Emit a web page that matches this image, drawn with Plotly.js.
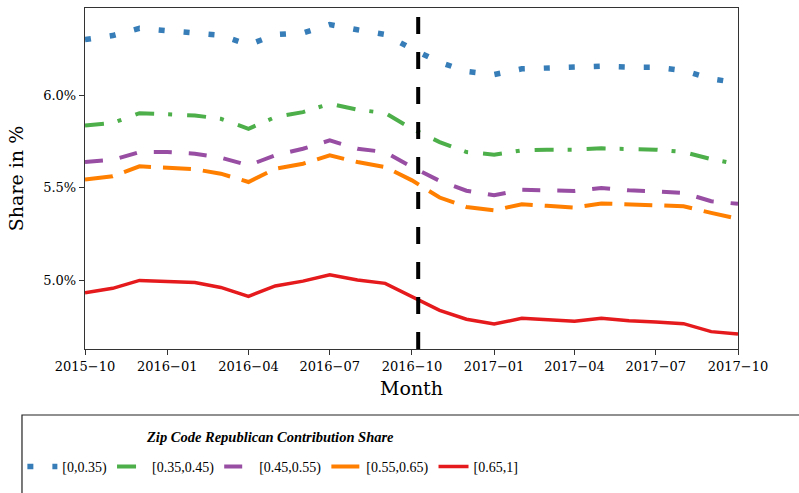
<!DOCTYPE html>
<html>
<head>
<meta charset="utf-8">
<script src="https://cdn.plot.ly/plotly-3.0.1.min.js"></script>
<style>
  html, body { margin: 0; padding: 0; background: #fff; }
  #chart { width: 799px; height: 493px; }
</style>
</head>
<body>
<div id="chart"></div>
<script>
// Monthly contribution share by zip-code partisanship bucket.

const months = [
    "2015-10-01", "2015-11-01", "2015-12-01", "2016-01-01", "2016-02-01",
    "2016-03-01", "2016-04-01", "2016-05-01", "2016-06-01", "2016-07-01",
    "2016-08-01", "2016-09-01", "2016-10-01", "2016-11-01", "2016-12-01",
    "2017-01-01", "2017-02-01", "2017-03-01", "2017-04-01", "2017-05-01",
    "2017-06-01", "2017-07-01", "2017-08-01", "2017-09-01", "2017-10-01",
];

const share_0_35 = [
    6.302, 6.324, 6.363, 6.351, 6.342, 6.326, 6.274, 6.329, 6.338, 6.383,
    6.355, 6.330, 6.252, 6.180, 6.130, 6.113, 6.144, 6.149, 6.153, 6.158,
    6.153, 6.153, 6.135, 6.090, 6.068,
];
const share_35_45 = [
    5.838, 5.851, 5.904, 5.897, 5.892, 5.874, 5.820, 5.883, 5.910, 5.955,
    5.923, 5.905, 5.820, 5.748, 5.694, 5.680, 5.703, 5.707, 5.707, 5.714,
    5.712, 5.707, 5.694, 5.656, 5.628,
];
const share_45_55 = [
    5.640, 5.652, 5.694, 5.694, 5.685, 5.664, 5.622, 5.676, 5.712, 5.757,
    5.712, 5.694, 5.613, 5.538, 5.485, 5.460, 5.490, 5.487, 5.484, 5.500,
    5.487, 5.482, 5.473, 5.428, 5.414,
];
const share_55_65 = [
    5.545, 5.563, 5.617, 5.610, 5.601, 5.577, 5.532, 5.604, 5.631, 5.676,
    5.640, 5.613, 5.541, 5.448, 5.397, 5.379, 5.412, 5.403, 5.394, 5.416,
    5.410, 5.403, 5.401, 5.365, 5.333,
];
const share_65_1 = [
    4.933, 4.957, 5.000, 4.995, 4.989, 4.962, 4.914, 4.970, 4.996, 5.030,
    5.002, 4.984, 4.913, 4.838, 4.790, 4.764, 4.795, 4.786, 4.779, 4.795,
    4.782, 4.775, 4.766, 4.723, 4.710,
];

const seriesNames = ["[0,0.35)", "[0.35,0.45)", "[0.45,0.55)", "[0.55,0.65)", "[0.65,1]"];
const seriesValues = [share_0_35, share_35_45, share_45_55, share_55_65, share_65_1];
const legendTitle = "Zip Code Republican Contribution Share";

// vertical event marker
const eventDate = "2016-10-08";

const yTickVals = [5.0, 5.5, 6.0];
const yTickText = ["5.0%", "5.5%", "6.0%"];

// Set1-ish colours with matplotlib-like dash patterns
const STYLES = [
    { color: "#377eb8", width: 5.5, dash: "6px,19px" },
    { color: "#4daf4a", width: 4, dash: "19px,14px,4px,15px" },
    { color: "#984ea3", width: 4, dash: "18px,17px" },
    { color: "#ff7f00", width: 4, dash: "28px,12px" },
    { color: "#e41a1c", width: 3.5, dash: "solid" },
];

const SERIF = "DejaVu Serif, serif";
const LEGEND_SERIF = "Liberation Serif, Times New Roman, serif";

function renderChart(div) {
    const traces = seriesNames.map((name, i) => ({
        x: months,
        y: seriesValues[i],
        type: "scatter",
        mode: "lines",
        name: name,
        line: STYLES[i],
        hovertemplate: "%{x|%Y-%m}: %{y:.2f}%<extra>" + name + "</extra>",
    }));

    const axisCommon = {
        ticks: "outside", ticklen: 5, tickcolor: "#333",
        showgrid: false, zeroline: false,
        showline: true, mirror: true, linecolor: "#333", linewidth: 1.2,
        tickfont: { size: 13, color: "#000" },
    };

    const layout = {
        width: 799,
        height: 493,
        paper_bgcolor: "#fff",
        plot_bgcolor: "#fff",
        margin: { t: 8, b: 144, l: 85, r: 61 },
        font: { family: SERIF, color: "#000", size: 13 },
        xaxis: {
            ...axisCommon,
            type: "date",
            range: ["2015-10-01", "2017-10-01"],
            tick0: "2015-10-01",
            dtick: "M3",
            tickformat: "%Y\u2212%m",
            title: { text: "Month", font: { size: 19 }, standoff: 9 },
        },
        yaxis: {
            ...axisCommon,
            range: [4.629, 6.473],
            tickmode: "array",
            tickvals: yTickVals,
            ticktext: yTickText,
            title: { text: "Share in %", font: { size: 19 }, standoff: 14 },
        },
        shapes: [
            {
                type: "line", xref: "x", yref: "paper",
                x0: eventDate, x1: eventDate, y0: 0, y1: 1,
                line: { color: "#000", width: 4, dash: "17px,18px" },
            },
            // legend frame runs off the right and bottom edge, like the original
            {
                type: "rect", xref: "paper", yref: "paper",
                x0: -0.0965, x1: 1.11, y0: -0.46, y1: -0.1935,
                line: { color: "#222", width: 1.2 },
                fillcolor: "rgba(0,0,0,0)",
                layer: "above",
            },
        ],
        annotations: [
            {
                text: "<b><i>" + legendTitle + "</i></b>",
                xref: "paper", yref: "paper",
                x: 0.283, y: -0.258,
                xanchor: "center", yanchor: "middle",
                showarrow: false,
                font: { family: LEGEND_SERIF, size: 14.5, color: "#000" },
            },
        ],
        showlegend: true,
        legend: {
            orientation: "h",
            xref: "container", yref: "container",
            x: 0.028, xanchor: "left",
            y: 0.053, yanchor: "middle",
            bgcolor: "rgba(0,0,0,0)",
            borderwidth: 0,
            font: { family: LEGEND_SERIF, size: 14, color: "#000" },
            traceorder: "normal",
        },
    };

    Plotly.newPlot(div, traces, layout, { staticPlot: true });
}

renderChart(document.getElementById("chart"));
</script>
</body>
</html>
